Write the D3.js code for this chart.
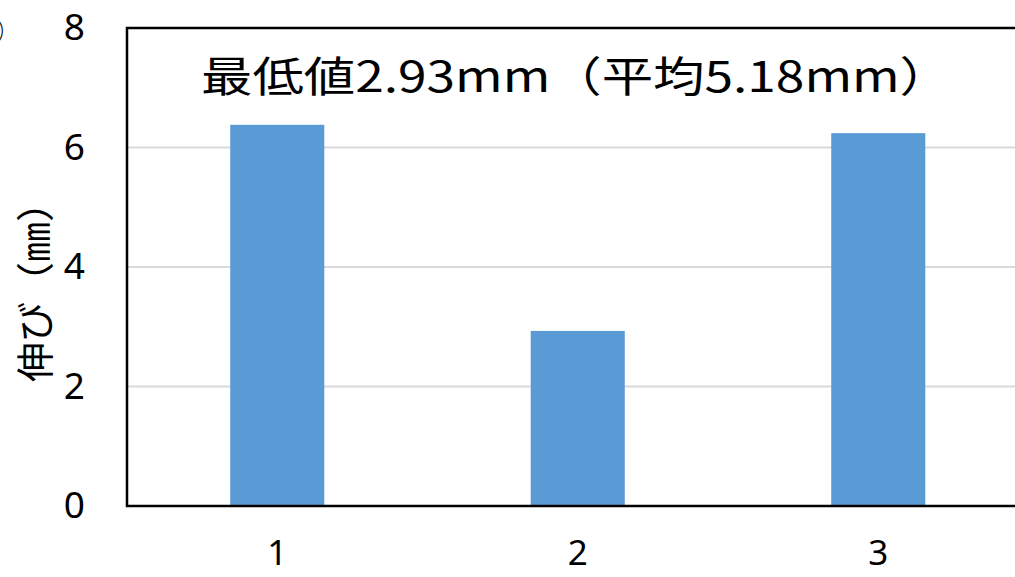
<!DOCTYPE html>
<html lang="ja">
<head>
  <meta charset="UTF-8">
  <script src="https://cdn.jsdelivr.net/npm/d3@7"></script>
  <title>伸び</title>
  <style>
    body { margin: 0; background: #fff; }
    text { font-family: "Noto Sans", "Open Sans", sans-serif; fill: #000; }
  </style>
</head>
<body>
  <svg id="chart" width="1015" height="577"></svg>
  <script>
  // data
  let categories = ["1", "2", "3"];
  let values = [6.38, 2.93, 6.24];
  let yTicks = [0, 2, 4, 6, 8];
  let yLabel = "伸び（㎜）";
  let note = "最低値2.93mm（平均5.18mm）";

  let svg = d3.select("#chart");
  let plotLeft = 127, plotTop = 28, plotBottom = 506, bandW = 300.5;

  let x = d3.scaleBand()
    .domain(categories)
    .range([plotLeft, plotLeft + bandW * categories.length])
    .paddingInner(0.687)
    .paddingOuter(0.3435);

  let y = d3.scaleLinear().domain([0, 8]).range([plotBottom, plotTop]);

  // gridlines
  svg.append("g")
    .selectAll("line")
    .data(yTicks.filter(d => d > 0 && d < 8))
    .enter().append("line")
    .attr("x1", plotLeft).attr("x2", 1015)
    .attr("y1", d => y(d)).attr("y2", d => y(d))
    .attr("stroke", "#d9d9d9").attr("stroke-width", 2);

  // bars
  svg.append("g")
    .selectAll("rect")
    .data(values)
    .enter().append("rect")
    .attr("x", (d, i) => x(categories[i]))
    .attr("width", x.bandwidth())
    .attr("y", d => y(d))
    .attr("height", d => plotBottom - y(d))
    .attr("fill", "#5b9bd5");

  // frame (top, left, bottom)
  svg.append("path")
    .attr("d", `M1015,${plotTop}H${plotLeft}V${plotBottom}H1015`)
    .attr("fill", "none").attr("stroke", "#000").attr("stroke-width", 2.5);

  // y axis labels
  let axisY = d3.axisLeft(y).tickValues(yTicks).tickSize(0).tickPadding(42);
  let gy = svg.append("g").attr("transform", `translate(${plotLeft},0)`).call(axisY);
  gy.select(".domain").remove();
  gy.selectAll("text")
    .style("font-family", "'Noto Sans', sans-serif")
    .style("font-size", "37px").attr("fill", "#000");

  // x axis labels
  let axisX = d3.axisBottom(x).tickSize(0).tickPadding(36);
  let gx = svg.append("g").attr("transform", `translate(0,${plotBottom})`).call(axisX);
  gx.select(".domain").remove();
  gx.selectAll("text")
    .attr("dy", "0.66em")
    .style("font-family", "'Noto Sans', sans-serif")
    .style("font-size", "35px").attr("fill", "#000");

  // y title
  svg.append("text")
    .attr("transform", "translate(49,282) rotate(-90)")
    .attr("text-anchor", "middle")
    .style("font-family", "'Noto Sans CJK JP', sans-serif")
    .style("font-size", "38px")
    .attr("textLength", 200)
    .attr("lengthAdjust", "spacingAndGlyphs")
    .text(yLabel);

  // note
  svg.append("text")
    .attr("x", 201).attr("y", 92)
    .style("font-family", "'Noto Sans CJK JP', sans-serif")
    .style("font-size", "42px")
    .attr("textLength", 750)
    .attr("lengthAdjust", "spacingAndGlyphs")
    .text(note);

  // cut-off marker at the left edge
  svg.append("text")
    .attr("x", 4).attr("y", 44)
    .attr("text-anchor", "end")
    .style("font-family", "'Noto Sans CJK JP', sans-serif")
    .style("font-size", "34px")
    .attr("fill", "#999")
    .text("②");
  </script>
</body>
</html>
